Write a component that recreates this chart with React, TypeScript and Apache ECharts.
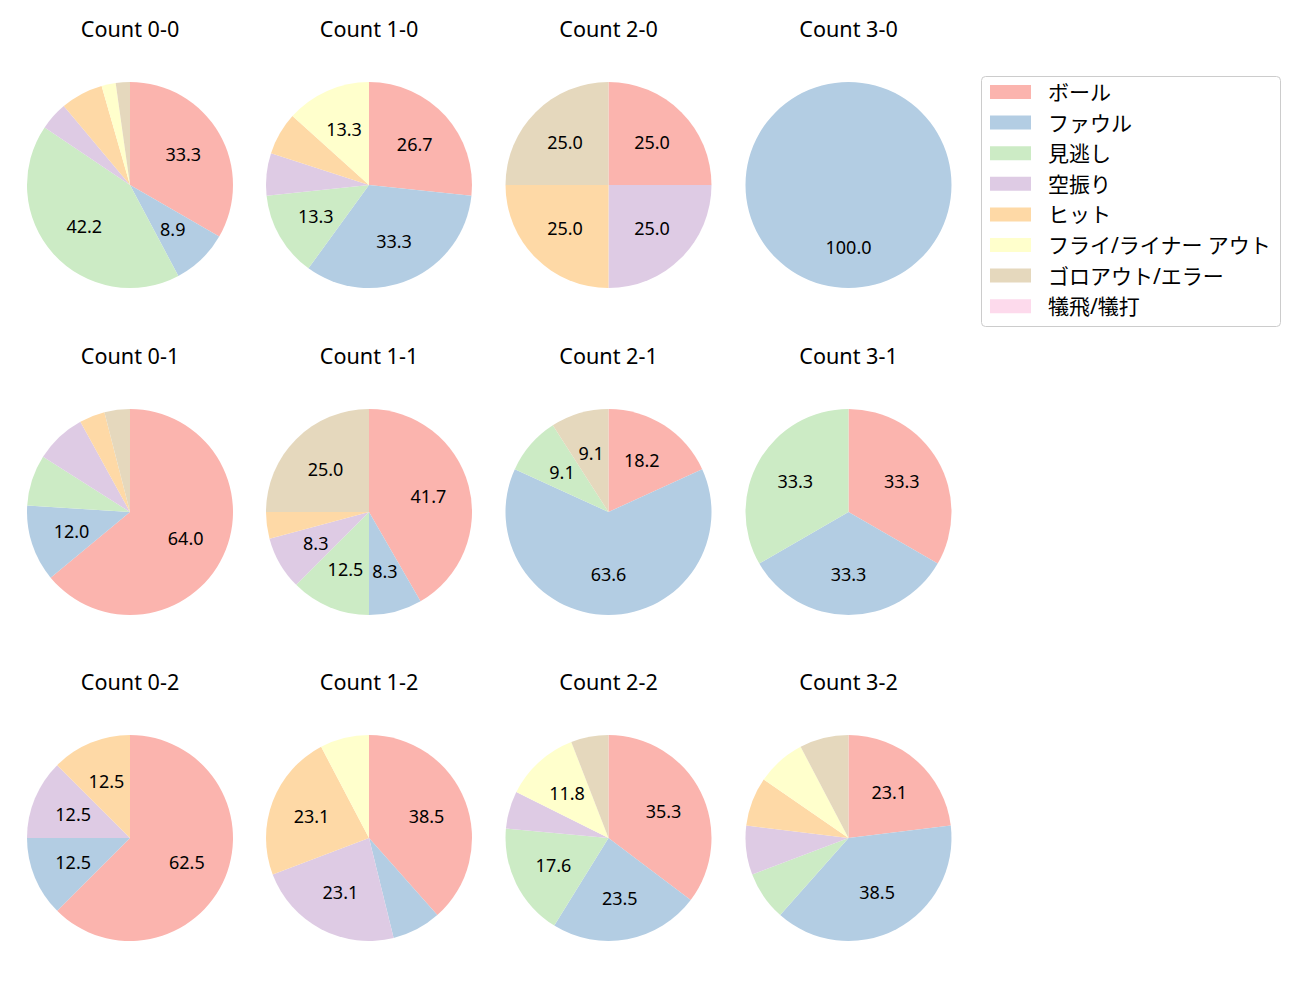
import React, { useEffect, useRef } from 'react';
import * as echarts from 'echarts';

const categories = ['ボール', 'ファウル', '見逃し', '空振り', 'ヒット', 'フライ/ライナー アウト', 'ゴロアウト/エラー', '犠飛/犠打'];
const colors = ['#fbb4ae', '#b3cde3', '#ccebc5', '#decbe4', '#fed9a6', '#ffffcc', '#e5d8bd', '#fddaec'];

const titles = [
  'Count 0-0', 'Count 1-0', 'Count 2-0', 'Count 3-0',
  'Count 0-1', 'Count 1-1', 'Count 2-1', 'Count 3-1',
  'Count 0-2', 'Count 1-2', 'Count 2-2', 'Count 3-2',
];

const counts00 = [15, 4, 19, 2, 3, 1, 1, 0];
const counts10 = [4, 5, 2, 1, 1, 2, 0, 0];
const counts20 = [1, 0, 0, 1, 1, 0, 1, 0];
const counts30 = [0, 1, 0, 0, 0, 0, 0, 0];
const counts01 = [16, 3, 2, 2, 1, 0, 1, 0];
const counts11 = [10, 2, 3, 2, 1, 0, 6, 0];
const counts21 = [2, 7, 1, 0, 0, 0, 1, 0];
const counts31 = [1, 1, 1, 0, 0, 0, 0, 0];
const counts02 = [5, 1, 0, 1, 1, 0, 0, 0];
const counts12 = [5, 1, 0, 3, 3, 1, 0, 0];
const counts22 = [6, 4, 3, 1, 0, 2, 1, 0];
const counts32 = [3, 5, 1, 1, 1, 1, 1, 0];

const pieCounts = [
  counts00, counts10, counts20, counts30,
  counts01, counts11, counts21, counts31,
  counts02, counts12, counts22, counts32,
];

const FONT = '"Noto Sans", "Noto Sans CJK JP", sans-serif';

export default function App() {
  const ref = useRef<HTMLDivElement>(null);

  useEffect(() => {
    document.body.style.margin = '0';
    if (!ref.current) return;
    const chart = echarts.init(ref.current, undefined, { renderer: 'svg' });

    const colX = [130, 369, 608.5, 848.5];
    const rowY = [185, 512, 838];
    const titleY = [28, 355, 681];
    const R = 103;

    const titleOpts: any[] = [];
    const series: any[] = [];

    pieCounts.forEach((cnt, i) => {
      const col = i % 4;
      const row = Math.floor(i / 4);
      const cx = colX[col];
      const cy = rowY[row];
      titleOpts.push({
        text: titles[i],
        left: cx,
        top: titleY[row],
        textAlign: 'center',
        textVerticalAlign: 'middle',
        padding: 0,
        textStyle: { fontSize: 21.6, fontWeight: 'normal', color: '#000', fontFamily: FONT },
      });
      const data = categories.map((name, k) => ({
        name,
        value: cnt[k],
        itemStyle: { color: colors[k] },
      }));
      series.push({
        type: 'pie',
        center: [cx, cy],
        radius: [0, R],
        startAngle: 90,
        clockwise: true,
        silent: true,
        avoidLabelOverlap: false,
        itemStyle: { borderWidth: 0 },
        label: { show: false },
        labelLine: { show: false },
        emphasis: { disabled: true },
        data,
      });
    });

    pieCounts.forEach((cnt, i) => {
      const col = i % 4;
      const row = Math.floor(i / 4);
      const cx = colX[col];
      const cy = rowY[row];
      const data = categories.map((name, k) => ({
        name,
        value: cnt[k],
        itemStyle: { color: 'rgba(0,0,0,0)' },
      }));
      series.push({
        type: 'pie',
        center: [cx, cy],
        radius: [14, R],
        startAngle: 90,
        clockwise: true,
        silent: true,
        legendHoverLink: false,
        avoidLabelOverlap: false,
        itemStyle: { borderWidth: 0 },
        label: {
          show: true,
          position: 'inside',
          color: '#000',
          fontSize: 18,
          fontFamily: FONT,
          padding: [0, 0, 3, 0],
          formatter: (p: any) => (p.percent > 8.05 ? Number(p.percent).toFixed(1) : ''),
        },
        labelLine: { show: false },
        emphasis: { disabled: true },
        data,
      });
    });

    chart.setOption({
      animation: false,
      title: titleOpts,
      legend: {
        orient: 'vertical',
        left: 990,
        top: 81.5,
        padding: 0,
        icon: 'rect',
        itemWidth: 41,
        itemHeight: 14,
        itemGap: 9.6,
        selectedMode: false,
        data: categories,
        textStyle: { fontSize: 21, color: '#000', fontFamily: FONT, padding: [0, 0, 0, 12] },
      },
      graphic: [
        {
          type: 'rect',
          z: 0,
          shape: { x: 981.5, y: 76.5, width: 299, height: 250, r: 4 },
          style: { fill: 'rgba(255,255,255,0.8)', stroke: '#cccccc', lineWidth: 1 },
        },
      ],
      series,
    });

    return () => chart.dispose();
  }, []);

  return <div ref={ref} style={{ width: 1300, height: 1000 }} />;
}
